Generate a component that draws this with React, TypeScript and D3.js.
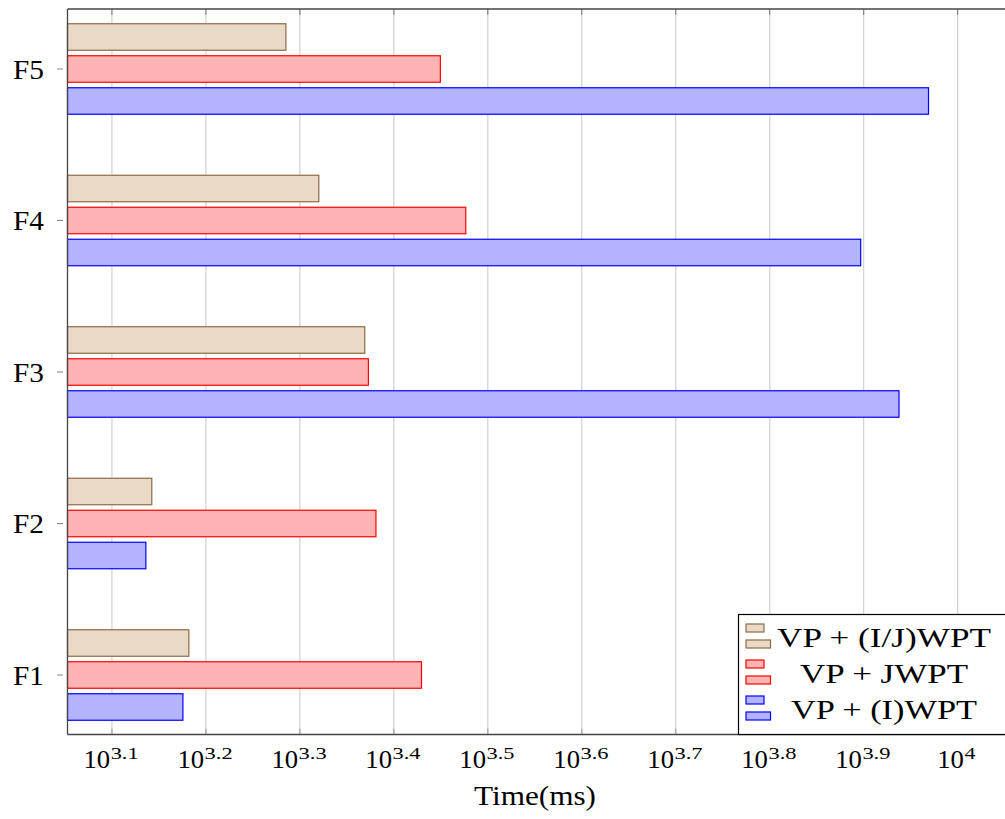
import React from "react";
import * as d3 from "d3";

const categories = ["F5", "F4", "F3", "F2", "F1"];
const seriesNames = ["VP + (I/J)WPT", "VP + JWPT", "VP + (I)WPT"];
const ijwpt = [1928, 2090, 2339, 1388, 1520];
const jwpt = [2815, 2996, 2360, 2404, 2688];
const iwpt = [9310, 7884, 8660, 1368, 1498];
const tickExps = ["3.1", "3.2", "3.3", "3.4", "3.5", "3.6", "3.7", "3.8", "3.9", "4"];
const tickValues = [3.1, 3.2, 3.3, 3.4, 3.5, 3.6, 3.7, 3.8, 3.9, 4.0];

const fills = ["#ead9c6", "#ffb3b3", "#b3b3ff"];
const strokes = ["#8c6a47", "#ff0000", "#0000ff"];
const legendWidths = [214, 168, 186];

const W = 1005;
const H = 819;
const left = 67.5;
const top = 9;
const bottom = 734.5;
const right = 1004.5;
const FONT = "'Liberation Serif', 'Times New Roman', serif";

export default function App() {
  const x = d3
    .scaleLog()
    .domain([Math.pow(10, 3.0527), Math.pow(10, 4.0498)])
    .range([left, right]);
  const y = d3.scalePoint<string>().domain(categories).range([69, 675]);
  const series = [ijwpt, jwpt, iwpt];
  const offsets = [-32, 0, 32];
  const barH = 26.5;

  return (
    <svg
      width={W}
      height={H}
      style={{ position: "absolute", left: 0, top: 0, background: "#fff" }}
      fontFamily={FONT}
    >
      {/* grid */}
      {tickValues.map((t, i) => {
        const xx = x(Math.pow(10, t));
        return (
          <g key={"g" + i}>
            <line x1={xx} x2={xx} y1={top} y2={bottom} stroke="#c8c8c8" strokeWidth={1} />
            <line x1={xx} x2={xx} y1={top} y2={top + 6} stroke="#777" strokeWidth={1} />
            <line x1={xx} x2={xx} y1={bottom - 6} y2={bottom} stroke="#999" strokeWidth={1} />
          </g>
        );
      })}
      {/* bars */}
      {series.map((vals, si) =>
        vals.map((v, ci) => {
          const cy = (y(categories[ci]) as number) + offsets[si];
          return (
            <rect
              key={si + "-" + ci}
              x={left}
              y={cy - barH / 2}
              width={x(v) - left}
              height={barH}
              fill={fills[si]}
              stroke={strokes[si]}
              strokeWidth={1.2}
            />
          );
        })
      )}
      {/* frame */}
      <line x1={left} x2={W + 5} y1={top} y2={top} stroke="#444" strokeWidth={1.3} />
      <line x1={left} x2={W + 5} y1={bottom} y2={bottom} stroke="#444" strokeWidth={1.3} />
      <line x1={left} x2={left} y1={top} y2={bottom} stroke="#444" strokeWidth={1.3} />
      {/* y ticks */}
      {categories.map((c) => {
        const yy = y(c) as number;
        return (
          <g key={c}>
            <line x1={57} x2={63} y1={yy} y2={yy} stroke="#888" strokeWidth={1} />
            <text
              x={13}
              y={yy + 9.5}
              fontSize={27}
              fill="#000"
              textLength={31}
              lengthAdjust="spacingAndGlyphs"
            >
              {c}
            </text>
          </g>
        );
      })}
      {/* x tick labels */}
      {tickValues.map((t, i) => {
        const xx = x(Math.pow(10, t));
        const exp = tickExps[i];
        const long = exp.length > 1;
        const start = long ? xx - 28.5 : xx - 20.5;
        return (
          <g key={"t" + i}>
            <text
              x={start}
              y={768}
              fontSize={26}
              fill="#000"
              textLength={26.7}
              lengthAdjust="spacingAndGlyphs"
            >
              10
            </text>
            <text
              x={start + 27.2}
              y={759}
              fontSize={16}
              fill="#000"
              textLength={long ? 28 : 11}
              lengthAdjust="spacingAndGlyphs"
            >
              {exp}
            </text>
          </g>
        );
      })}
      <text
        x={474}
        y={805}
        fontSize={27}
        fill="#000"
        textLength={122}
        lengthAdjust="spacingAndGlyphs"
      >
        Time(ms)
      </text>
      {/* legend */}
      <rect x={738.5} y={614.5} width={300} height={120} fill="#fff" stroke="#000" strokeWidth={1.2} />
      {seriesNames.map((name, i) => {
        const base = 624 + i * 36;
        return (
          <g key={name}>
            <rect x={746} y={base} width={18} height={8} fill={fills[i]} stroke={strokes[i]} strokeWidth={1.2} />
            <rect x={746} y={base + 16} width={24.5} height={8} fill={fills[i]} stroke={strokes[i]} strokeWidth={1.2} />
            <text
              x={884 - legendWidths[i] / 2}
              y={base + 23}
              fontSize={27}
              fill="#000"
              textLength={legendWidths[i]}
              lengthAdjust="spacingAndGlyphs"
            >
              {name}
            </text>
          </g>
        );
      })}
    </svg>
  );
}
